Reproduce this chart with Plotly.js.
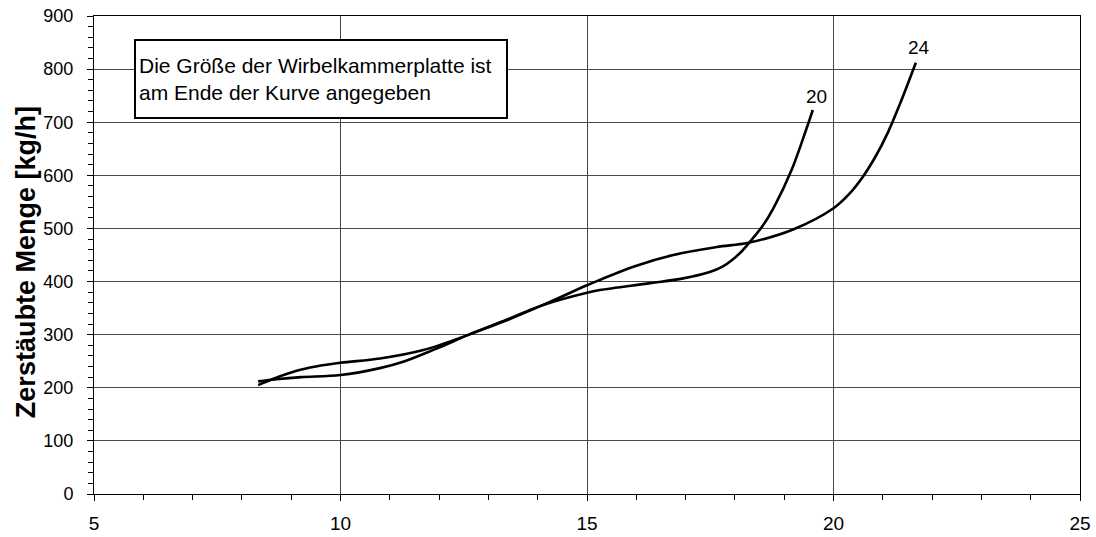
<!DOCTYPE html>
<html>
<head>
<meta charset="utf-8">
<script src="https://cdn.plot.ly/plotly-3.0.1.min.js"></script>
<style>html,body{margin:0;padding:0;background:#fff;}#chart{width:1096px;height:537px;}</style>
</head>
<body>
<div id="chart"></div>
<script>
// Curve for plate size 20
const x20 = [8.33, 8.7, 9.2, 10.0, 10.8, 11.27, 11.95, 12.63, 13.37, 14.11, 15.0, 15.26, 16.28, 16.95, 17.49, 17.75, 17.95, 18.15, 18.35, 18.55, 18.78, 19.15, 19.46, 19.58];
const y20 = [212, 216, 220, 224, 237, 249, 274, 301, 328, 356, 379, 384, 397, 406, 418, 428, 441, 458, 480, 503, 538, 610, 690, 723];
// Curve for plate size 24
const x24 = [8.33, 8.64, 9.11, 9.5, 10.0, 10.8, 11.68, 12.63, 13.37, 14.11, 15.0, 15.26, 15.94, 16.75, 17.63, 18.27, 19.18, 20.0, 20.3, 20.6, 20.85, 21.1, 21.35, 21.67];
const y24 = [205, 217, 232, 240, 247, 255, 271, 301, 327, 356, 393, 403, 428, 450, 465, 473, 498, 538, 563, 598, 635, 680, 735, 812];
const seriesLabels = ["20", "24"];
const yTitle = "Zerstäubte Menge [kg/h]";
const noteText = "Die Größe der Wirbelkammerplatte ist<br>am Ende der Kurve angegeben";

const FONT = "Liberation Sans, Arial, sans-serif";
const lineStyle = {color: "#000", width: 2.6, shape: "spline", smoothing: 1};

const traces = [
  {x: x20, y: y20, mode: "lines", line: lineStyle, name: seriesLabels[0], hoverinfo: "x+y"},
  {x: x24, y: y24, mode: "lines", line: lineStyle, name: seriesLabels[1], hoverinfo: "x+y"}
];

const layout = {
  width: 1096, height: 537,
  margin: {l: 94, r: 16, t: 16, b: 43},
  paper_bgcolor: "#fff", plot_bgcolor: "#fff",
  showlegend: false,
  font: {family: FONT, color: "#000", size: 19},
  xaxis: {
    range: [5, 25], dtick: 5, tick0: 5,
    showgrid: true, gridcolor: "#4a4a4a", gridwidth: 1,
    zeroline: false, showline: true, linecolor: "#000", linewidth: 1, mirror: true,
    ticks: "outside", ticklen: 6, tickcolor: "#000", tickwidth: 1,
    minor: {dtick: 1, ticks: "outside", ticklen: 5, tickcolor: "#000", showgrid: false},
    tickfont: {family: FONT, size: 19}, ticklabelstandoff: 6
  },
  yaxis: {
    range: [0, 900], dtick: 100, tick0: 0,
    showgrid: true, gridcolor: "#4a4a4a", gridwidth: 1,
    zeroline: false, showline: true, linecolor: "#000", linewidth: 1, mirror: true,
    ticks: "outside", ticklen: 6, tickcolor: "#000", tickwidth: 1,
    minor: {dtick: 20, ticks: "outside", ticklen: 5, tickcolor: "#000", showgrid: false},
    tickfont: {family: FONT, size: 18}, ticklabelstandoff: 10
  },
  annotations: [
    {xref: "paper", yref: "paper", x: -0.069, y: 0.485, xanchor: "center", yanchor: "middle",
     text: "<b>" + yTitle + "</b>", textangle: -90, showarrow: false,
     font: {family: FONT, size: 27, color: "#000"}},
    {xref: "paper", yref: "paper", x: 0.0406, y: 0.952, xanchor: "left", yanchor: "top",
     text: noteText, align: "left", valign: "middle", showarrow: false,
     font: {family: FONT, size: 21, color: "#000"},
     bgcolor: "#fff", bordercolor: "#000", borderwidth: 2, borderpad: 3, width: 364, height: 70},
    {x: x20[x20.length-1], y: y20[y20.length-1], text: seriesLabels[0], showarrow: false,
     xshift: 4, yshift: 14, font: {family: FONT, size: 19, color: "#000"}},
    {x: x24[x24.length-1], y: y24[y24.length-1], text: seriesLabels[1], showarrow: false,
     xshift: 3, yshift: 15, font: {family: FONT, size: 19, color: "#000"}}
  ]
};

Plotly.newPlot("chart", traces, layout, {displayModeBar: false, staticPlot: true});
</script>
</body>
</html>
